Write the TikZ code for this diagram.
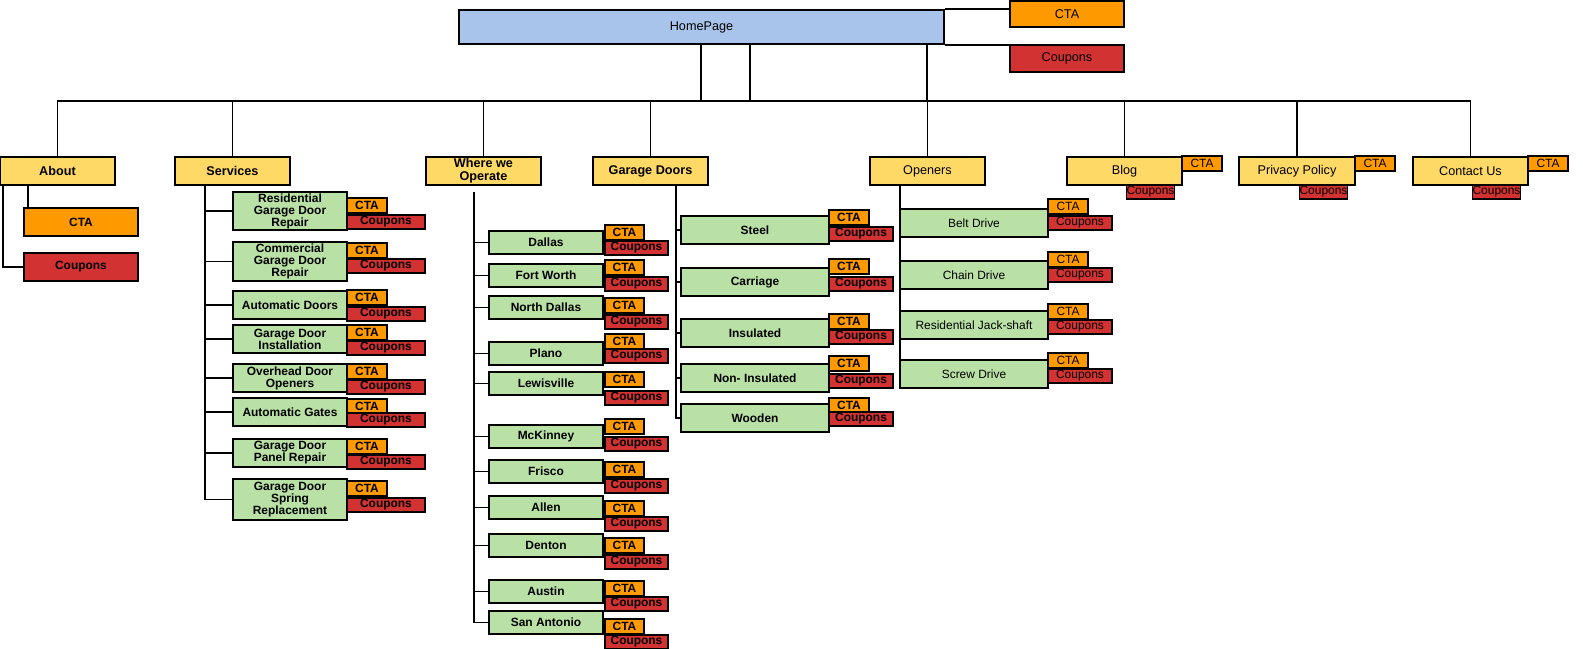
\documentclass[tikz,border=0pt]{standalone}
\usepackage{fontspec}
\setmainfont{Liberation Sans}
\definecolor{hpblue}{HTML}{A9C4EB}
\definecolor{secyel}{HTML}{FFD966}
\definecolor{subgrn}{HTML}{B9E0A5}
\definecolor{ctaorg}{HTML}{FF9900}
\definecolor{cpnred}{HTML}{D33232}
% box from its corners: style, name, x1, y1, x2, y2, text
\newcommand\bx[7]{\node[#1,minimum width={(#5-#3)*0.02cm},minimum height={(#6-#4)*0.02cm}] (#2) at ({(#3+#5)/2},{(#4+#6)/2}) {#7};}
\begin{document}
\begin{tikzpicture}[x=0.02cm,y=-0.02cm,line width=0.9pt]
    \tikzset{box/.style={draw,inner sep=0pt,align=center,font=\fontsize{6.8}{7.2}\selectfont}}
    \tikzset{page/.style={box,fill=hpblue,font=\fontsize{7.2}{8}\selectfont}}
    \tikzset{sec/.style={box,fill=secyel,font=\fontsize{7.2}{7.6}\selectfont\bfseries}}
    \tikzset{secl/.style={box,fill=secyel,font=\fontsize{7.2}{7.6}\selectfont}}
    \tikzset{sub/.style={box,fill=subgrn,font=\fontsize{6.8}{6.8}\selectfont\bfseries}}
    \tikzset{subl/.style={box,fill=subgrn,font=\fontsize{6.8}{7}\selectfont}}
    \tikzset{cta/.style={box,fill=ctaorg,font=\fontsize{6.8}{7}\selectfont\bfseries}}
    \tikzset{cpn/.style={box,fill=cpnred,font=\fontsize{6.8}{7}\selectfont\bfseries}}
    \useasboundingbox (0,0) rectangle (1583,649);
    % home page
    \bx{page}{hp}{459}{10}{944}{44}{HomePage}
    \bx{cta,font=\fontsize{7.2}{8}\selectfont}{hcta}{1010}{1}{1124}{27}{CTA}
    \bx{cpn,font=\fontsize{7.2}{8}\selectfont}{hcpn}{1010}{45}{1124}{72}{Coupons}
    \draw (hp.north east) -- (hp.north east -| hcta.west);
    \draw (hp.south east) -- (hp.south east -| hcpn.west);
    \coordinate (busL) at (57,101);
    \foreach \x in {701,750,927} \draw (hp.south -| \x,0) -- (busL -| \x,0);
    % sections
    \bx{sec}{about}{0}{157}{115}{185}{About}
    \bx{sec}{svc}{175}{157}{290}{185}{Services}
    \bx{sec}{where}{426}{157}{541}{185}{Where we\\Operate}
    \bx{sec}{gd}{593}{157}{708}{185}{Garage Doors}
    \bx{secl}{op}{870}{157}{985}{185}{Openers}
    \bx{secl}{blog}{1067}{157}{1182}{185}{Blog}
    \bx{secl}{pp}{1239}{157}{1355}{185}{Privacy Policy}
    \bx{secl}{cu}{1413}{157}{1528}{185}{Contact Us}
    \draw (busL) -- (busL -| cu.north);
    \foreach \s in {about,svc,where,gd,op,blog,pp,cu}
        \draw (\s.north) -- (\s.north |- busL);
    \foreach \s/\x in {blog/1182,pp/1355,cu/1528}{
        \bx{cta,font=\fontsize{6.8}{7}\selectfont}{\s t}{\x}{156}{\x+40}{171}{CTA}
        \bx{cpn,font=\fontsize{6.8}{7}\selectfont}{\s c}{\x-63}{185}{\x}{199}{Coupons}
    }
    % about
    \bx{cta}{at}{24}{208}{138}{236}{CTA}
    \bx{cpn}{ac}{24}{253}{138}{281}{Coupons}
    \draw (about.south -| at.west) ++(5,0) -- ++(0,23);
    \draw (about.south -| 3,0) |- (ac.west);
    % services
    \coordinate (svcT) at (205,185);
    \foreach \i/\yt/\yb/\ct/\cp/\txt in {1/192/230/198/215/{Residential\\Garage Door\\Repair},
        2/242/281/243/259/{Commercial\\Garage Door\\Repair},3/291/319/290/307/{Automatic Doors},
        4/325/353/325/341/{Garage Door\\Installation},5/364/392/364/380/{Overhead Door\\Openers},
        6/398/426/399/413/{Automatic Gates},7/439/467/439/455/{Garage Door\\Panel Repair},
        8/479/520/481/498/{Garage Door\\Spring\\Replacement}}{
        \bx{sub}{s\i}{233}{\yt}{347}{\yb}{\txt}
        \bx{cta}{s\i t}{347}{\ct}{387}{\ct+15}{CTA}
        \bx{cpn}{s\i c}{347}{\cp}{425}{\cp+14}{Coupons}
        \draw (svcT) |- (s\i.west);
    }
    % where we operate
    \coordinate (whereT) at (474,192);
    \foreach \i/\yt/\ct/\cp/\txt in {1/231/225/241/Dallas,2/264/260/277/Fort Worth,
        3/296/298/315/North Dallas,4/342/334/349/Plano,5/372/372/391/Lewisville,
        6/425/419/437/McKinney,7/460/462/479/Frisco,8/496/501/517/Allen,
        9/534/538/555/Denton,10/580/581/597/Austin,11/611/619/635/San Antonio}{
        \bx{sub}{w\i}{489}{\yt}{603}{\yt+23}{\txt}
        \bx{cta}{w\i t}{605}{\ct}{644}{\ct+15}{CTA}
        \bx{cpn}{w\i c}{605}{\cp}{668}{\cp+14}{Coupons}
        \draw (whereT) |- (w\i.west);
    }
    % garage doors
    \coordinate (gdT) at (676,185);
    \foreach \i/\yt/\ct/\cp/\txt in {1/216/210/227/Steel,2/268/259/277/Carriage,
        3/319/314/330/Insulated,4/364/356/374/Non- Insulated,5/404/398/412/Wooden}{
        \bx{sub}{g\i}{681}{\yt}{829}{\yt+28}{\txt}
        \bx{cta}{g\i t}{829}{\ct}{869}{\ct+15}{CTA}
        \bx{cpn}{g\i c}{829}{\cp}{893}{\cp+14}{Coupons}
        \draw (gdT) |- (g\i.west);
    }
    % openers
    \coordinate (opT) at (900,185);
    \foreach \i/\yt/\ct/\cp/\txt in {1/209/199/216/Belt Drive,2/261/252/268/Chain Drive,
        3/311/304/320/Residential Jack-shaft,4/360/353/369/Screw Drive}{
        \bx{subl}{o\i}{900}{\yt}{1048}{\yt+28}{\txt}
        \bx{cta,font=\fontsize{6.8}{7}\selectfont}{o\i t}{1048}{\ct}{1088}{\ct+15}{CTA}
        \bx{cpn,font=\fontsize{6.8}{7}\selectfont}{o\i c}{1048}{\cp}{1112}{\cp+14}{Coupons}
        \draw (opT) |- (o\i.west);
    }
\end{tikzpicture}
\end{document}
